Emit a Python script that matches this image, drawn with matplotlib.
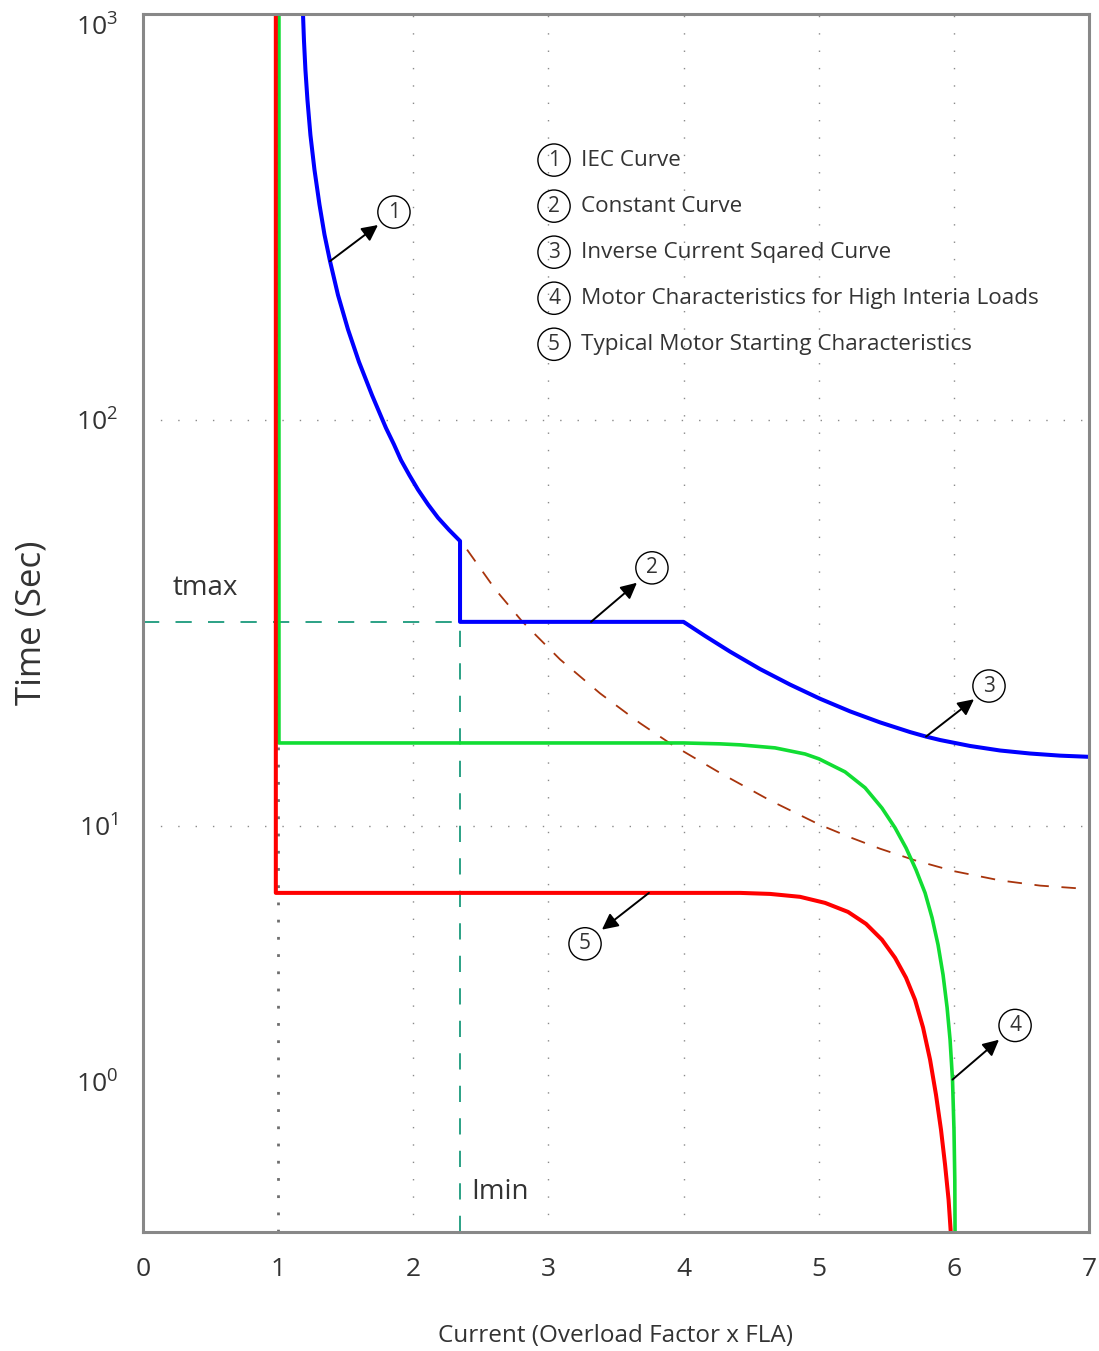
import numpy as np
import matplotlib.pyplot as plt

plt.rcParams['font.family'] = ['Open Sans', 'DejaVu Sans']
plt.rcParams['mathtext.fontset'] = 'custom'
plt.rcParams['mathtext.rm'] = 'Open Sans'
plt.rcParams['mathtext.it'] = 'Open Sans:italic'
plt.rcParams['mathtext.bf'] = 'Open Sans:bold'

TEXT = '#333333'
GRID = '#8a8a8a'

# (1) IEC curve, down to the step at Imin
iec_current = [1.184, 1.191, 1.202, 1.217, 1.239, 1.269, 1.306, 1.343, 1.384,
               1.443, 1.517, 1.598, 1.695, 1.798, 1.857, 1.909, 1.972, 2.035,
               2.109, 2.183, 2.264, 2.346]
iec_time = [1000, 863, 728, 614, 503, 413, 339, 286, 246, 203, 167, 139,
            115, 95.5, 87.0, 79.6, 73.0, 67.3, 61.9, 57.4, 53.6, 50.3]

# (2) constant tmax section and (3) the I^2 tail after it
tmax = 31.8
imin = 2.346
const_end = 4.0
tail_current = [4.159, 4.344, 4.566, 4.788, 5.010, 5.232, 5.454, 5.676,
                5.794, 5.898, 6.120, 6.342, 6.564, 6.786, 7.0]
tail_time = [29.36, 26.86, 24.33, 22.28, 20.56, 19.14, 17.98, 17.02, 16.59,
             16.27, 15.73, 15.33, 15.07, 14.89, 14.79]

# (4) motor characteristic for high inertia loads
inertia_current = [1.006, 1.006, 4.0, 4.270, 4.418, 4.677, 4.899, 5.002,
                   5.195, 5.343, 5.468, 5.565, 5.646, 5.720, 5.787, 5.839,
                   5.883, 5.920, 5.950, 5.972, 5.990, 6.001, 6.007, 6.009]
inertia_time = [1000, 16.0, 16.0, 15.92, 15.83, 15.56, 15.03, 14.62, 13.58,
                12.41, 11.06, 9.82, 8.20, 6.73, 5.47, 4.37, 3.43, 2.62, 1.95,
                1.46, 1.02, 0.649, 0.414, 0.25]

# (5) typical motor starting characteristic
start_current = [0.983, 0.983, 4.418, 4.640, 4.862, 5.047, 5.217, 5.350,
                 5.468, 5.565, 5.646, 5.713, 5.772, 5.824, 5.868, 5.905,
                 5.935, 5.961, 5.979]
start_time = [1000, 5.47, 5.47, 5.42, 5.28, 5.00, 4.61, 4.14, 3.59, 3.05,
              2.55, 2.09, 1.63, 1.22, 0.889, 0.649, 0.474, 0.346, 0.25]

# inverse current squared reference
sq_current = [2.398, 2.605, 2.805, 3.086, 3.382, 3.678, 3.914, 4.270, 4.640,
              5.002, 5.232, 5.454, 5.713, 6.001, 6.342, 6.638, 7.0]
sq_time = [47.9, 38.3, 31.9, 25.7, 21.2, 17.9, 15.85, 13.5, 11.55, 10.08,
           9.02, 8.14, 7.33, 6.65, 6.12, 5.84, 5.66]

legend_items = ['IEC Curve', 'Constant Curve', 'Inverse Current Sqared Curve',
                'Motor Characteristics for High Interia Loads',
                'Typical Motor Starting Characteristics']

# callouts: number, point on curve, arrow tip, circle centre
callouts = [
    ('1', (1.384, 246), (1.739, 302), (1.857, 325)),
    ('2', (3.315, 31.8), (3.655, 39.7), (3.766, 43.2)),
    ('3', (5.794, 16.59), (6.149, 20.5), (6.260, 22.1)),
    ('4', (5.990, 1.02), (6.334, 1.46), (6.453, 1.66)),
    ('5', (3.744, 5.47), (3.396, 3.93), (3.271, 3.46)),
]

x_ticks = [0, 1, 2, 3, 4, 5, 6, 7]
y_ticks = [1, 10, 100, 1000]
y_labels = [r'$10^{0}$', r'$10^{1}$', r'$10^{2}$', r'$10^{3}$']
grid_currents = [2, 3, 4, 5, 6]
grid_times = [10, 100, 1000]

# log axis, with the decade below 10 drawn shorter than the others
K = 256 / 406


def fwd(t):
    lg = np.log10(np.clip(t, 1e-6, None))
    return np.where(lg >= 1, lg, 1 - (1 - lg) * K)


def inv(u):
    u = np.asarray(u, dtype=float)
    return np.where(u >= 1, 10.0 ** u, 10.0 ** (1 - (1 - u) / K))


fig = plt.figure(figsize=(10.99, 13.51), dpi=100)
ax = fig.add_axes([0.1301, 0.0881, 0.8608, 0.9016])
ax.set_yscale('function', functions=(fwd, inv))
ax.set_xlim(0, 7)
ax.set_ylim(0.259, 1000)

for c in grid_currents:
    ax.axvline(c, color=GRID, lw=1.0, ls=(0, (1, 11.5)), zorder=1)
for t in grid_times:
    ax.axhline(t, color=GRID, lw=1.0, ls=(0, (1, 11.5)), zorder=1)
ax.axvline(1, color='#6e6e6e', lw=2.0, ls=(0, (1, 5.2)), zorder=1)

# tmax / Imin guides
ax.plot([0, imin], [tmax, tmax], color='#1a9a7c', lw=1.3, ls=(0, (9, 9)),
        zorder=2)
ax.plot([imin, imin], [0.259, tmax], color='#1a9a7c', lw=1.3,
        ls=(0, (9, 9)), zorder=2)

ax.plot(sq_current, sq_time, color='#a8340c', lw=1.3, ls=(0, (8, 7)),
        zorder=2)

blue_x = iec_current + [imin, const_end] + tail_current
blue_y = iec_time + [tmax, tmax] + tail_time
ax.plot(blue_x, blue_y, color='#0000ff', lw=2.9, zorder=4,
        solid_joinstyle='round')
ax.plot(inertia_current, inertia_time, color='#11dd33', lw=2.6, zorder=3,
        solid_joinstyle='round')
ax.plot(start_current, start_time, color='#ff0000', lw=2.9, zorder=4,
        solid_joinstyle='round')

circle = dict(boxstyle='circle,pad=0.27', fc='none', ec='black', lw=1.0)

for num, tail, tip, centre in callouts:
    ax.annotate('', xy=tip, xytext=tail,
                arrowprops=dict(arrowstyle='-|>', color='black', lw=1.4,
                                mutation_scale=24, shrinkA=0, shrinkB=0),
                zorder=5)
    ax.text(*centre, num, ha='center', va='center', fontsize=15, color=TEXT,
            zorder=6, bbox=circle)

for i, label in enumerate(legend_items):
    y = 0.8800 - i * 0.0378
    ax.text(0.4345, y, str(i + 1), transform=ax.transAxes, ha='center',
            va='center', fontsize=15, color=TEXT, bbox=circle)
    ax.text(0.463, y, label, transform=ax.transAxes, ha='left', va='center',
            fontsize=16.2, color=TEXT)

ax.text(0.459, 38.5, 'tmax', ha='center', va='center', fontsize=20,
        color=TEXT)
ax.text(2.642, 0.372, 'Imin', ha='center', va='center', fontsize=20,
        color=TEXT)

ax.set_xticks(x_ticks)
ax.set_yticks(y_ticks)
ax.set_yticklabels(y_labels)
ax.yaxis.set_minor_locator(plt.NullLocator())
ax.tick_params(length=0, labelsize=19, labelcolor=TEXT, pad=18)
ax.get_yticklabels()[-1].set_va('top')
ax.set_xlabel('Current (Overload Factor x FLA)', fontsize=17.5, color=TEXT,
              labelpad=30)
ax.set_ylabel('Time (Sec)', fontsize=25, color=TEXT, labelpad=20)

for s in ax.spines.values():
    s.set_color('#888888')
    s.set_linewidth(2.2)
    s.set_zorder(7)

fig.savefig('out.png', dpi=100)
